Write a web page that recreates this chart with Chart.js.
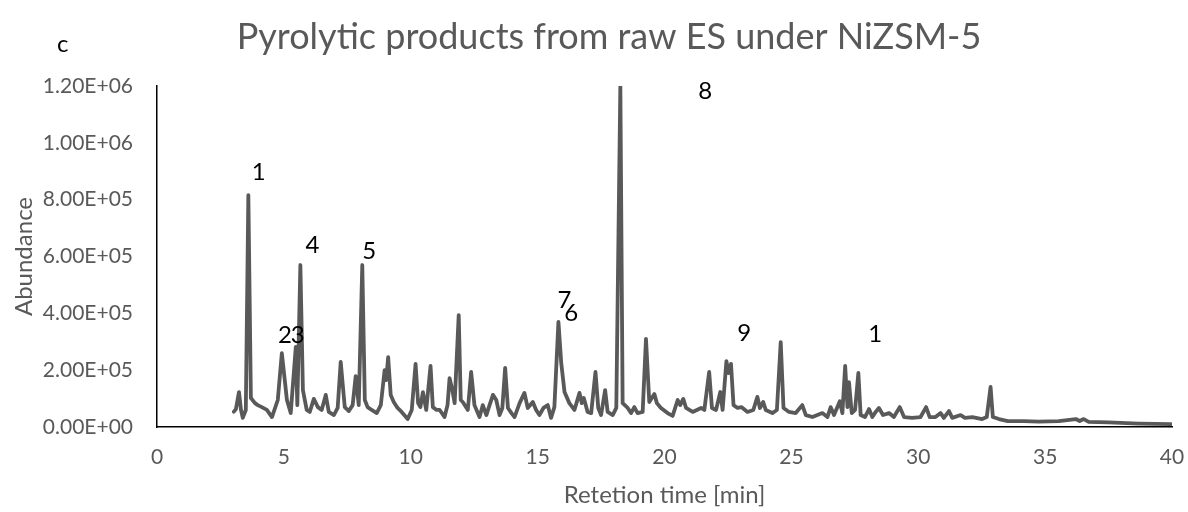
<!DOCTYPE html>
<html>
<head>
<meta charset="utf-8">
<script src="https://cdn.jsdelivr.net/npm/chart.js@4/dist/chart.umd.min.js"></script>
<style>
  html, body { margin: 0; padding: 0; background: #ffffff; }
  #wrap { width: 1188px; height: 512px; }
</style>
</head>
<body>
<div id="wrap"><canvas id="chrom" width="1188" height="512"></canvas></div>
<script>
// Total ion chromatogram: retention time (min) and detector abundance
const retentionTime = [
  3.03, 3.11, 3.23, 3.31, 3.38, 3.50, 3.60, 3.70, 3.86, 3.97, 4.13, 4.33, 4.53, 4.76, 4.92, 5.12,
  5.27, 5.47, 5.53, 5.65, 5.75, 5.90, 6.02, 6.18, 6.34, 6.49, 6.65, 6.77, 6.97, 7.12, 7.24, 7.40,
  7.56, 7.71, 7.83, 7.95, 8.09, 8.19, 8.30, 8.46, 8.66, 8.82, 8.97, 9.03, 9.11, 9.21, 9.33, 9.48,
  9.64, 9.88, 10.04, 10.19, 10.29, 10.38, 10.48, 10.61, 10.78, 10.87, 11.02, 11.14, 11.33, 11.45,
  11.53, 11.64, 11.73, 11.89, 11.97, 12.05, 12.25, 12.38, 12.51, 12.71, 12.84, 12.98, 13.08, 13.24,
  13.37, 13.50, 13.61, 13.72, 13.83, 13.97, 14.09, 14.29, 14.48, 14.61, 14.81, 14.94, 15.07, 15.23,
  15.40, 15.53, 15.66, 15.82, 15.93, 16.06, 16.25, 16.45, 16.65, 16.74, 16.82, 16.97, 17.11, 17.28,
  17.39, 17.50, 17.66, 17.76, 17.96, 18.10, 18.26, 18.35, 18.55, 18.68, 18.81, 18.94, 19.14, 19.27,
  19.40, 19.60, 19.70, 19.86, 20.12, 20.32, 20.52, 20.62, 20.74, 20.85, 21.11, 21.44, 21.57, 21.76,
  21.87, 22.03, 22.20, 22.29, 22.44, 22.52, 22.62, 22.72, 22.88, 23.03, 23.27, 23.50, 23.66, 23.76,
  23.89, 23.99, 24.25, 24.43, 24.58, 24.69, 24.91, 25.17, 25.43, 25.57, 25.83, 26.22, 26.42, 26.55,
  26.68, 26.91, 27.01, 27.12, 27.21, 27.27, 27.38, 27.51, 27.64, 27.73, 27.90, 28.06, 28.19, 28.32,
  28.45, 28.61, 28.85, 29.04, 29.27, 29.44, 29.76, 30.09, 30.31, 30.45, 30.68, 30.88, 31.01, 31.21,
  31.34, 31.67, 31.84, 32.13, 32.52, 32.70, 32.85, 32.94, 33.18, 33.53, 34.16, 34.75, 35.54, 36.21,
  36.36, 36.52, 36.72, 37.50, 38.69, 39.95
];
const abundance = [
  54000, 63000, 123000, 60000, 32000, 60000, 816000, 102000, 84000, 77000, 70000, 60000, 35000, 95000, 260000, 95000,
  49000, 282000, 77000, 570000, 130000, 60000, 53000, 99000, 70000, 60000, 113000, 53000, 42000, 67000, 229000, 70000,
  56000, 77000, 179000, 77000, 570000, 95000, 70000, 60000, 49000, 77000, 200000, 165000, 246000, 113000, 88000, 67000,
  53000, 28000, 60000, 222000, 84000, 70000, 123000, 60000, 215000, 70000, 60000, 60000, 35000, 77000,
  172000, 130000, 84000, 394000, 95000, 88000, 60000, 194000, 77000, 35000, 77000, 42000, 70000, 113000,
  95000, 42000, 67000, 208000, 67000, 49000, 35000, 84000, 120000, 67000, 88000, 60000, 42000, 67000,
  77000, 32000, 70000, 370000, 225000, 123000, 84000, 60000, 120000, 84000, 102000, 53000, 49000, 194000,
  67000, 42000, 130000, 53000, 42000, 67000, 1200000, 84000, 67000, 49000, 70000, 49000, 53000, 310000,
  88000, 116000, 84000, 67000, 49000, 39000, 95000, 77000, 99000, 67000, 53000, 67000, 60000, 194000,
  67000, 60000, 123000, 60000, 232000, 190000, 222000, 77000, 67000, 70000, 53000, 60000, 106000, 67000,
  88000, 60000, 49000, 60000, 299000, 67000, 53000, 49000, 77000, 42000, 35000, 49000, 35000, 70000,
  42000, 91000, 49000, 215000, 70000, 158000, 49000, 60000, 190000, 42000, 35000, 63000, 35000, 53000,
  67000, 42000, 49000, 35000, 70000, 35000, 32000, 35000, 70000, 35000, 35000, 49000, 32000, 56000,
  32000, 42000, 32000, 35000, 28000, 35000, 141000, 35000, 28000, 21000, 21000, 19000, 21000, 28000,
  21000, 28000, 18000, 16000, 12000, 10000
];

// Numbered compound labels placed above their peaks
const peakLabels = ['1', '2', '3', '4', '5', '7', '6', '8', '9', '1'];
const labelTime  = [4.01, 5.04, 5.55, 6.13, 8.36, 16.06, 16.32, 21.60, 23.14, 28.30];
const labelValue = [897000, 324000, 324000, 640000, 620000, 447000, 401000, 1180000, 330000, 327000];

// Axis ranges and tick spacing
const timeTicks = [0, 5, 10, 15, 20, 25, 30, 35, 40];
const abundanceTicks = [0, 200000, 400000, 600000, 800000, 1000000, 1200000];

const chartTitle = 'Pyrolytic products from raw ES under NiZSM-5';
const panelLetter = 'c';

const FONT = 'Lato, "Liberation Sans", sans-serif';
const GREY = '#595959';

const points = retentionTime.map((t, i) => ({ x: t, y: abundance[i] }));

function sci(v) {
  const [m, e] = Number(v).toExponential(2).split('e');
  const sign = e[0] === '-' ? '-' : '+';
  const digits = e.replace(/[+-]/, '').padStart(2, '0');
  return m + 'E' + sign + digits;
}

// Heading, panel letter and peak numbers
const annotationPlugin = {
  id: 'annotations',
  afterDatasetsDraw(chart) {
    const { ctx, scales } = chart;
    ctx.save();
    ctx.textBaseline = 'middle';

    ctx.font = '36px ' + FONT;
    ctx.fillStyle = GREY;
    ctx.textAlign = 'center';
    ctx.fillText(chartTitle, 609, 37);

    ctx.font = '24px ' + FONT;
    ctx.fillStyle = '#000000';
    peakLabels.forEach((txt, i) => {
      ctx.fillText(txt, scales.x.getPixelForValue(labelTime[i]), scales.y.getPixelForValue(labelValue[i]));
    });

    ctx.textAlign = 'left';
    ctx.fillText(panelLetter, 57, 44);
    ctx.restore();
  }
};

new Chart(document.getElementById('chrom'), {
  type: 'line',
  data: {
    datasets: [{
      label: 'Abundance',
      data: points,
      borderColor: GREY,
      borderWidth: 3.8,
      borderJoinStyle: 'round',
      borderCapStyle: 'round',
      pointRadius: 0,
      tension: 0,
      fill: false
    }]
  },
  options: {
    responsive: false,
    animation: false,
    devicePixelRatio: 1,
    layout: { padding: { left: 0, right: 0, top: 86, bottom: 0 } },
    plugins: {
      legend: { display: false },
      tooltip: { enabled: false },
      title: { display: false }
    },
    scales: {
      x: {
        type: 'linear',
        min: timeTicks[0],
        max: timeTicks[timeTicks.length - 1],
        afterBuildTicks: s => { s.ticks = timeTicks.map(v => ({ value: v })); },
        afterFit: s => { s.height = 85; s.paddingRight = 16; s.paddingLeft = 0; },
        grid: { display: false, drawTicks: false },
        border: { display: true, color: '#000000', width: 1.5 },
        ticks: { color: GREY, font: { family: FONT, size: 21 }, padding: 18, maxRotation: 0 },
        title: {
          display: true,
          text: 'Retetion time [min]',
          color: GREY,
          font: { family: FONT, size: 24 },
          padding: { top: 0, bottom: 2 }
        }
      },
      y: {
        type: 'linear',
        min: abundanceTicks[0],
        max: abundanceTicks[abundanceTicks.length - 1],
        afterBuildTicks: s => { s.ticks = abundanceTicks.map(v => ({ value: v })); },
        afterFit: s => { s.width = 157; s.paddingTop = 0; },
        grid: { display: false, drawTicks: false },
        border: { display: true, color: '#000000', width: 1.5 },
        ticks: { color: GREY, font: { family: FONT, size: 21 }, padding: 24, callback: v => sci(v) },
        title: {
          display: true,
          text: 'Abundance',
          color: GREY,
          font: { family: FONT, size: 24 },
          padding: { top: 10, bottom: 0 }
        }
      }
    }
  },
  plugins: [annotationPlugin]
});
</script>
</body>
</html>
